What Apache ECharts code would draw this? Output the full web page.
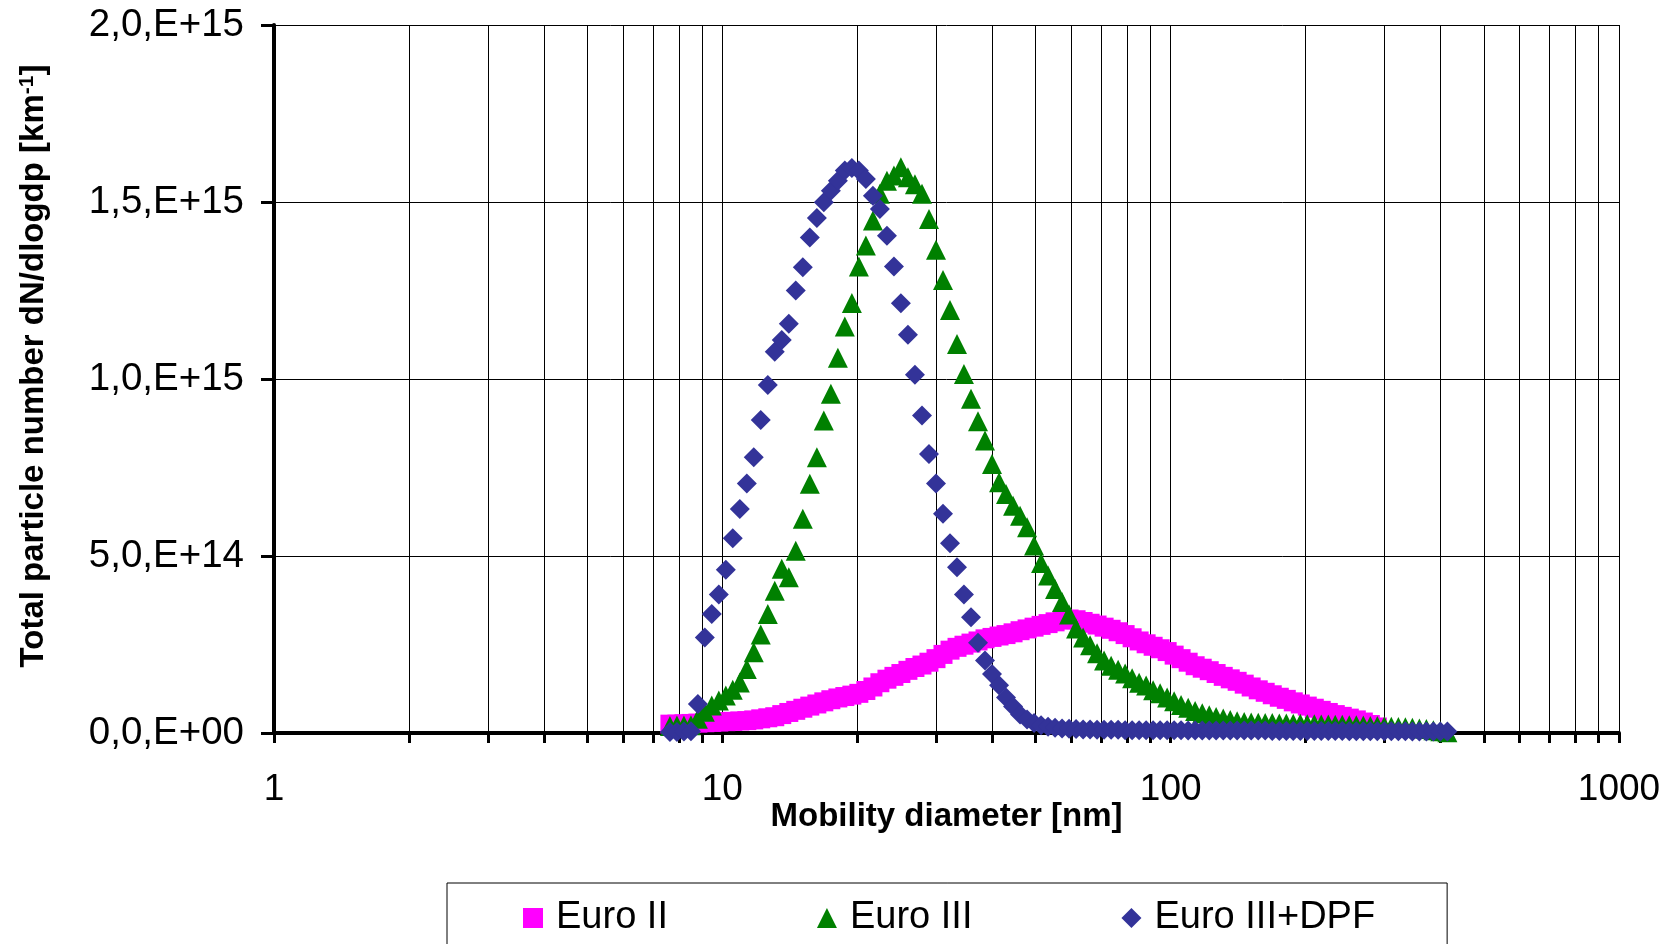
<!DOCTYPE html>
<html>
<head>
<meta charset="utf-8">
<script src="https://cdn.jsdelivr.net/npm/echarts@6/dist/echarts.min.js"></script>
<style>
  html, body { margin: 0; padding: 0; background: #fff; }
  #chart { width: 1677px; height: 944px; }
</style>
</head>
<body>
<div id="chart"></div>
<script>
// Mobility diameter channels [nm]
const diameters = [
  7.64, 7.92, 8.21, 8.51, 8.82, 9.14, 9.47, 9.82, 10.18, 10.55,
  10.94, 11.34, 11.75, 12.18, 12.63, 13.09, 13.57, 14.07, 14.58, 15.12,
  15.67, 16.25, 16.84, 17.46, 18.10, 18.76, 19.45, 20.16, 20.90, 21.67,
  22.46, 23.29, 24.14, 25.02, 25.94, 26.89, 27.88, 28.90, 29.96, 31.06,
  32.20, 33.38, 34.59, 35.86, 37.18, 38.54, 39.95, 41.42, 42.93, 44.51,
  46.14, 47.83, 49.58, 51.40, 53.28, 55.23, 57.25, 59.35, 61.52, 63.78,
  66.11, 68.53, 71.04, 73.65, 76.35, 79.14, 82.04, 85.05, 88.16, 91.39,
  94.74, 98.21, 101.8, 105.5, 109.4, 113.4, 117.6, 121.9, 126.3, 131.0,
  135.8, 140.7, 145.9, 151.2, 156.8, 162.5, 168.5, 174.7, 181.1, 187.7,
  194.6, 201.7, 209.1, 216.7, 224.7, 232.9, 241.4, 250.3, 259.5, 269.0,
  278.8, 289.0, 299.6, 310.6, 322.0, 333.8, 346.0, 358.7, 371.8, 385.4,
  399.5, 414.2
];

// Values in units of 1e14 km^-1
const UNIT = 1e14;

const euroII = [
  0.25, 0.25, 0.26, 0.27, 0.28, 0.29, 0.30, 0.31, 0.32, 0.33,
  0.34, 0.35, 0.37, 0.40, 0.43, 0.46, 0.52, 0.58, 0.64, 0.70,
  0.76, 0.82, 0.88, 0.94, 0.99, 1.03, 1.07, 1.12, 1.20, 1.30,
  1.42, 1.52, 1.60, 1.68, 1.77, 1.85, 1.92, 2.00, 2.10, 2.22,
  2.34, 2.42, 2.48, 2.54, 2.60, 2.66, 2.70, 2.74, 2.78, 2.83,
  2.89, 2.94, 2.99, 3.04, 3.09, 3.14, 3.19, 3.22, 3.20, 3.15,
  3.10, 3.05, 2.99, 2.93, 2.86, 2.78, 2.69, 2.60, 2.52, 2.45,
  2.38, 2.30, 2.20, 2.10, 2.00, 1.90, 1.83, 1.76, 1.68, 1.60,
  1.53, 1.46, 1.38, 1.30, 1.22, 1.15, 1.08, 1.01, 0.95, 0.88,
  0.82, 0.76, 0.70, 0.64, 0.58, 0.52, 0.47, 0.42, 0.37, 0.31,
  0.24, 0.17
];

const euroIII = [
  0.20, 0.21, 0.21, 0.22, 0.40, 0.60, 0.78, 0.92, 1.06, 1.22,
  1.43, 1.81, 2.28, 2.78, 3.36, 4.02, 4.64, 4.40, 5.15, 6.05,
  7.04, 7.79, 8.83, 9.58, 10.60, 11.48, 12.15, 13.18, 13.77, 14.48,
  15.23, 15.60, 15.75, 15.98, 15.70, 15.50, 15.23, 14.52, 13.65, 12.80,
  11.95, 10.99, 10.14, 9.44, 8.81, 8.26, 7.60, 7.08, 6.75, 6.42,
  6.14, 5.81, 5.30, 4.80, 4.45, 4.07, 3.70, 3.35, 2.95, 2.70,
  2.48, 2.25, 2.05, 1.90, 1.79, 1.68, 1.55, 1.42, 1.34, 1.21,
  1.12, 1.00, 0.90, 0.79, 0.71, 0.62, 0.56, 0.50, 0.45, 0.41,
  0.37, 0.33, 0.31, 0.30, 0.29, 0.28, 0.28, 0.27, 0.27, 0.26,
  0.26, 0.25, 0.25, 0.24, 0.24, 0.23, 0.23, 0.22, 0.22, 0.21,
  0.20, 0.20, 0.19, 0.18, 0.17, 0.16, 0.15, 0.13, 0.11, 0.08,
  0.05, 0.02
];

const euroIIIDPF = [
  0.03, 0.03, 0.04, 0.05, 0.82, 2.70, 3.36, 3.91, 4.61, 5.50,
  6.33, 7.05, 7.79, 8.84, 9.83, 10.77, 11.10, 11.56, 12.50, 13.16,
  14.00, 14.55, 14.99, 15.32, 15.60, 15.89, 15.96, 15.89, 15.65, 15.18,
  14.80, 14.05, 13.18, 12.14, 11.25, 10.12, 8.97, 7.88, 7.05, 6.19,
  5.36, 4.68, 3.91, 3.27, 2.55, 2.05, 1.67, 1.35, 1.00, 0.75,
  0.52, 0.38, 0.28, 0.22, 0.18, 0.15, 0.13, 0.12, 0.11, 0.10,
  0.10, 0.09, 0.09, 0.09, 0.09, 0.08, 0.08, 0.08, 0.08, 0.08,
  0.08, 0.08, 0.08, 0.08, 0.07, 0.07, 0.07, 0.07, 0.07, 0.07,
  0.07, 0.07, 0.07, 0.07, 0.07, 0.07, 0.06, 0.06, 0.06, 0.06,
  0.06, 0.06, 0.06, 0.06, 0.06, 0.06, 0.06, 0.05, 0.05, 0.05,
  0.05, 0.05, 0.05, 0.05, 0.05, 0.05, 0.04, 0.04, 0.04, 0.04,
  0.04, 0.04
];

const seriesNames = ['Euro II', 'Euro III', 'Euro III+DPF'];

// Axis ticks
const xTickValues = [1, 2, 3, 4, 5, 6, 7, 8, 9,
  10, 20, 30, 40, 50, 60, 70, 80, 90,
  100, 200, 300, 400, 500, 600, 700, 800, 900, 1000];
const xLabelValues = [1, 10, 100, 1000];
const xTickLabels = ['1', '10', '100', '1000'];
const yTickValues = [0, 5e14, 1e15, 1.5e15, 2e15];
const yTickLabels = ['0,0,E+00', '5,0,E+14', '1,0,E+15', '1,5,E+15', '2,0,E+15'];

const FONT = '"Liberation Sans", Arial, sans-serif';

function pairs(values) {
  return values.map((v, i) => [diameters[i], v * UNIT]);
}

const chart = echarts.init(document.getElementById('chart'), null, { renderer: 'canvas' });

const option = {
  backgroundColor: '#ffffff',
  animation: false,
  textStyle: { fontFamily: FONT, color: '#000' },
  grid: { left: 274, right: 58, top: 25, bottom: 211 },
  legend: {
    left: 447,
    top: 883,
    orient: 'horizontal',
    padding: [16, 72, 40, 76],
    itemGap: 149,
    itemWidth: 20,
    itemHeight: 20,
    borderColor: '#000',
    borderWidth: 1,
    textStyle: { fontSize: 38, fontFamily: FONT, color: '#000', padding: [0, 0, 0, 8] },
    data: [
      { name: seriesNames[0], icon: 'rect' },
      { name: seriesNames[1], icon: 'triangle' },
      { name: seriesNames[2], icon: 'diamond' }
    ]
  },
  xAxis: {
    type: 'log',
    logBase: 10,
    min: 1,
    max: 1000,
    name: 'Mobility diameter [nm]',
    nameLocation: 'middle',
    nameGap: 67,
    nameMoveOverlap: false,
    nameTextStyle: { fontSize: 33, fontWeight: 'bold', fontFamily: FONT, color: '#000' },
    axisLine: { show: true, onZero: false, lineStyle: { color: '#000', width: 4 } },
    axisTick: { show: true, customValues: xTickValues, length: 10, lineStyle: { color: '#000', width: 3 } },
    axisLabel: {
      customValues: xLabelValues,
      fontSize: 37,
      margin: 38,
      color: '#000',
      fontFamily: FONT,
      formatter: function (v) {
        const idx = xLabelValues.findIndex(t => Math.abs(t - v) / t < 1e-6);
        return idx >= 0 ? xTickLabels[idx] : '';
      }
    },
    splitLine: { show: true, lineStyle: { color: '#000', width: 1 } }
  },
  yAxis: {
    type: 'value',
    min: 0,
    max: 2e15,
    interval: 5e14,
    name: '{t|Total particle number dN/dlogdp [km}{s|-1}{t|]}',
    nameLocation: 'middle',
    nameGap: 224,
    nameMoveOverlap: false,
    nameTextStyle: {
      padding: [0, 0, 0, 26],
      rich: {
        t: { fontSize: 33, fontWeight: 'bold', fontFamily: FONT, color: '#000' },
        s: { fontSize: 21, fontWeight: 'bold', fontFamily: FONT, color: '#000', verticalAlign: 'top' }
      }
    },
    axisLine: { show: true, lineStyle: { color: '#000', width: 4 } },
    axisTick: { show: true, length: 13, lineStyle: { color: '#000', width: 3 } },
    axisLabel: {
      fontSize: 38.5,
      margin: 30,
      color: '#000',
      fontFamily: FONT,
      formatter: function (v) {
        const idx = yTickValues.findIndex(t => Math.abs(t - v) < 1e10);
        return idx >= 0 ? yTickLabels[idx] : '';
      }
    },
    splitLine: { show: true, lineStyle: { color: '#000', width: 1 } }
  },
  series: [
    {
      name: seriesNames[0],
      type: 'scatter',
      symbol: 'rect',
      symbolSize: 19,
      itemStyle: { color: '#FF00FF', opacity: 1 },
      data: pairs(euroII)
    },
    {
      name: seriesNames[1],
      type: 'scatter',
      symbol: 'triangle',
      symbolSize: 20,
      itemStyle: { color: '#008000', opacity: 1 },
      data: pairs(euroIII)
    },
    {
      name: seriesNames[2],
      type: 'scatter',
      symbol: 'diamond',
      symbolSize: 20,
      itemStyle: { color: '#333399', opacity: 1 },
      data: pairs(euroIIIDPF)
    }
  ]
};

chart.setOption(option);
</script>
</body>
</html>
